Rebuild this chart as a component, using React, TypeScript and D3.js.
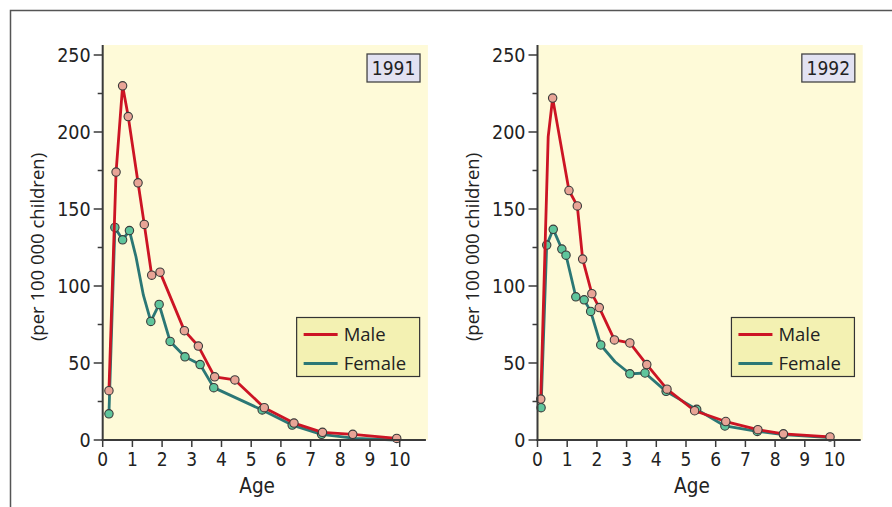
import * as d3 from 'd3';

// Ages and rates per 100 000 children
const MALE_1991_AGE = [0.21, 0.45, 0.67, 0.86, 1.19, 1.4, 1.65, 1.93, 2.75, 3.22, 3.77, 4.45, 5.44, 6.44, 7.4, 8.42, 9.9];
const MALE_1991_RATE = [32, 174, 230, 210, 167, 140, 107, 109, 71, 61, 41, 39, 21, 11, 5, 3.7, 1];
const MALE_1991_NODOT: number[] = [];

const FEMALE_1991_AGE = [0.21, 0.41, 0.67, 0.9, 1.12, 1.37, 1.62, 1.9, 2.27, 2.77, 3.28, 3.74, 5.37, 6.38, 7.37, 8.5, 9.9];
const FEMALE_1991_RATE = [17, 138, 130, 136, 119, 94, 77, 88, 64, 54, 49, 34, 19.5, 9.7, 3.7, 1, 0];
const FEMALE_1991_NODOT = [4, 5, 15, 16];

const MALE_1992_AGE = [0.11, 0.36, 0.51, 1.06, 1.34, 1.52, 1.83, 2.08, 2.59, 3.11, 3.68, 4.36, 5.29, 6.34, 7.42, 8.28, 9.85];
const MALE_1992_RATE = [26.6, 197, 222, 162, 152, 117.5, 95, 86, 65, 63, 49, 33, 19, 12, 6.7, 4, 2];
const MALE_1992_NODOT = [1];

const FEMALE_1992_AGE = [0.12, 0.31, 0.53, 0.82, 0.96, 1.29, 1.57, 1.79, 2.13, 2.61, 3.11, 3.62, 4.33, 5.36, 6.31, 7.4, 8.28, 9.85];
const FEMALE_1992_RATE = [21, 126.6, 136.8, 124, 120, 93, 91, 83.5, 61.7, 50.8, 43, 43.5, 31.6, 19.9, 9.1, 5.6, 3.5, 1.5];
const FEMALE_1992_NODOT = [9, 17];

const X_TICKS = [0, 1, 2, 3, 4, 5, 6, 7, 8, 9, 10];
const Y_TICKS = [0, 50, 100, 150, 200, 250];
const Y_MINOR = [25, 75, 125, 175, 225];
const SERIES_LABELS = ['Male', 'Female'];

const MALE_LINE = '#cc1424';
const MALE_DOT = '#e8a496';
const FEMALE_LINE = '#2b7775';
const FEMALE_DOT = '#5fc59c';
const NARROW = '"Liberation Sans Narrow", "DejaVu Sans Condensed", sans-serif';
const REGULAR = '"Open Sans", "Noto Sans", sans-serif';

interface Series {
    age: number[];
    rate: number[];
    noDot: number[];
}

interface PanelProps {
    left: number;
    year: string;
    male: Series;
    female: Series;
}

function Panel({ left, year, male, female }: PanelProps) {
    const x = d3.scaleLinear().domain([0, 11]).range([left, left + 326.7]);
    const y = d3.scaleLinear().domain([0, 250]).range([440, 55]);
    const top = y(256.5);
    const right = x(10.95);

    const line = d3.line<[number, number]>().x(d => x(d[0])).y(d => y(d[1]));

    const drawSeries = (s: Series, stroke: string, fill: string) => {
        const pts = s.age.map((a, i) => [a, s.rate[i]] as [number, number]);
        return (
            <g>
                <path d={line(pts) ?? ''} fill="none" stroke={stroke} strokeWidth={2.8} strokeLinejoin="round" />
                {pts.map((p, i) => s.noDot.includes(i) ? null : (
                    <circle key={i} cx={x(p[0])} cy={y(p[1])} r={4.2} fill={fill} stroke="#3a3a3a" strokeWidth={1.1} />
                ))}
            </g>
        );
    };

    const legX = x(6.53);
    return (
        <g>
            <rect x={left} y={top} width={right - left} height={440 - top} fill="#fefad8" />

            {/* year box */}
            <rect x={x(8.9)} y={54} width={53} height={28} fill="#e2e2f2" stroke="#444" strokeWidth={1.3} />
            <text x={x(8.9) + 26.5} y={75} textAnchor="middle" fontFamily={NARROW} fontSize={19} fill="#222">{year}</text>

            {drawSeries(female, FEMALE_LINE, FEMALE_DOT)}
            {drawSeries(male, MALE_LINE, MALE_DOT)}

            {/* legend */}
            <rect x={legX} y={317.5} width={123} height={59} fill="#f3f1b2" stroke="#333" strokeWidth={1.2} />
            {SERIES_LABELS.map((lab, i) => (
                <g key={lab}>
                    <line x1={legX + 7} x2={legX + 41} y1={334.5 + i * 29} y2={334.5 + i * 29}
                        stroke={i === 0 ? MALE_LINE : FEMALE_LINE} strokeWidth={2.8} />
                    <text x={legX + 47} y={341} fontFamily={REGULAR} fontSize={18.5} fill="#222"
                        dy={i * 29}>{lab}</text>
                </g>
            ))}

            {/* axes */}
            <line x1={left} x2={left} y1={top} y2={441} stroke="#3a3a3a" strokeWidth={2} />
            <line x1={left - 1} x2={right - 2} y1={440} y2={440} stroke="#3a3a3a" strokeWidth={2} />
            {Y_TICKS.map(t => (
                <g key={t}>
                    <line x1={left - 9} x2={left} y1={y(t)} y2={y(t)} stroke="#3a3a3a" strokeWidth={1.5} />
                    <text x={left - 12} y={y(t) + 6.5} textAnchor="end" fontFamily={NARROW} fontSize={19.5} fill="#222">{t}</text>
                </g>
            ))}
            {Y_MINOR.map(t => (
                <line key={t} x1={left - 5} x2={left} y1={y(t)} y2={y(t)} stroke="#3a3a3a" strokeWidth={1.5} />
            ))}
            {X_TICKS.map(t => (
                <g key={t}>
                    <line x1={x(t)} x2={x(t)} y1={440} y2={447} stroke="#3a3a3a" strokeWidth={1.5} />
                    <text x={x(t)} y={465.5} textAnchor="middle" fontFamily={NARROW} fontSize={19} fill="#222">{t}</text>
                </g>
            ))}
            <text x={x(5.2)} y={493} textAnchor="middle" fontFamily={NARROW} fontSize={20.5} fill="#222">Age</text>
            <text transform={`translate(${left - 59}, 247) rotate(-90)`} textAnchor="middle"
                fontFamily={REGULAR} fontSize={18.5} fill="#222">(per 100 000 children)</text>
        </g>
    );
}

export default function App() {
    return (
        <svg width={892} height={507} style={{ position: 'absolute', left: 0, top: 0, background: '#fff' }}>
            <path d="M10.5 507 V10.5 H892" fill="none" stroke="#555" strokeWidth={1.5} />
            <Panel left={102.7} year="1991"
                male={{ age: MALE_1991_AGE, rate: MALE_1991_RATE, noDot: MALE_1991_NODOT }}
                female={{ age: FEMALE_1991_AGE, rate: FEMALE_1991_RATE, noDot: FEMALE_1991_NODOT }} />
            <Panel left={537.5} year="1992"
                male={{ age: MALE_1992_AGE, rate: MALE_1992_RATE, noDot: MALE_1992_NODOT }}
                female={{ age: FEMALE_1992_AGE, rate: FEMALE_1992_RATE, noDot: FEMALE_1992_NODOT }} />
        </svg>
    );
}
